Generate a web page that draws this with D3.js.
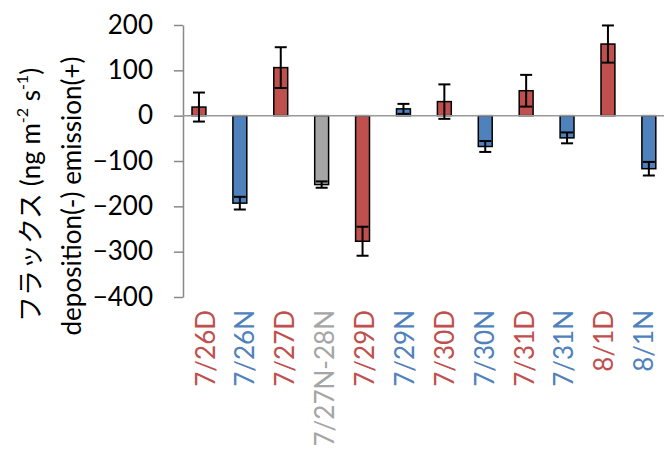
<!DOCTYPE html>
<html><head><meta charset="utf-8">
<script src="https://cdn.jsdelivr.net/npm/d3@7"></script>
<style>body{margin:0;background:#fff}svg{display:block}text{font-family:Lato,"Noto Sans CJK JP",sans-serif}</style>
</head><body><svg id="c" width="664" height="451"></svg>
<script>
const categories = ["7/26D","7/26N","7/27D","7/27N-28N","7/29D","7/29N","7/30D","7/30N","7/31D","7/31N","8/1D","8/1N"];
const periodType = ["D","N","D","NN","D","N","D","N","D","N","D","N"];
const fluxValues = [19,-193,106,-152,-277,15,31,-68,55,-49,158,-117];
const fluxErrors = [32,14,45,7,32,11,38,12,35,12,41,15];
const yTicks = [-400,-300,-200,-100,0,100,200];

const svg = d3.select("#c");
const color = d3.scaleOrdinal().domain(["D","N","NN"]).range(["#C0504D","#4F81BD","#A5A5A5"]);
const x = d3.scaleBand().domain(categories).range([178.5, 669.3]).paddingInner(0.66).paddingOuter(0.33);
const y = d3.scaleLinear().domain([-400, 200]).range([297, 25]);
const data = categories.map((c,i)=>({c, t:periodType[i], v:fluxValues[i], e:fluxErrors[i]}));

// y axis
const ax = svg.append("g").attr("transform","translate(183,0)")
  .call(d3.axisLeft(y).tickValues(yTicks).tickSize(9).tickPadding(21).tickSizeOuter(0).tickFormat(d3.format("d")));
ax.select(".domain").attr("stroke","#888").attr("stroke-width",1.5);
ax.selectAll(".tick line").attr("stroke","#888").attr("stroke-width",1.5);
ax.selectAll(".tick text").attr("font-size",26).attr("fill","#000").attr("font-family",'Lato,sans-serif');

// bars
svg.append("g").selectAll("rect").data(data).join("rect")
  .attr("x", d=>x(d.c)).attr("width", x.bandwidth())
  .attr("y", d=>y(Math.max(0,d.v))).attr("height", d=>Math.abs(y(d.v)-y(0)))
  .attr("fill", d=>color(d.t)).attr("stroke","#000").attr("stroke-width",1.5);

// zero line
svg.append("line").attr("x1",183).attr("x2",664).attr("y1",y(0)).attr("y2",y(0))
  .attr("stroke","#999").attr("stroke-width",1.5);

// error bars
const eb = svg.append("g").attr("stroke","#000").attr("stroke-width",2);
const cap = 6;
data.forEach(d=>{
  const cx = x(d.c)+x.bandwidth()/2;
  eb.append("line").attr("x1",cx).attr("x2",cx).attr("y1",y(d.v-d.e)).attr("y2",y(d.v+d.e));
  eb.append("line").attr("x1",cx-cap).attr("x2",cx+cap).attr("y1",y(d.v+d.e)).attr("y2",y(d.v+d.e));
  eb.append("line").attr("x1",cx-cap).attr("x2",cx+cap).attr("y1",y(d.v-d.e)).attr("y2",y(d.v-d.e));
});

// x labels (slightly compressed toward the middle, as in the original)
const mid = (x.range()[0]+x.range()[1])/2;
svg.append("g").selectAll("text").data(data).join("text")
  .attr("transform", d=>{ const cx = x(d.c)+x.bandwidth()/2; return `translate(${cx-(cx-mid)*0.025},310) rotate(-90)`; })
  .attr("text-anchor","end").attr("dominant-baseline","central")
  .attr("font-size",26).attr("fill",d=>color(d.t)).text(d=>d.c);

// y title
const t1 = svg.append("text").attr("transform","translate(30,195) rotate(-90)")
  .attr("text-anchor","middle").attr("dominant-baseline","central").attr("font-size",26).attr("fill","#000");
t1.append("tspan").text("フラックス (ng m");
t1.append("tspan").attr("font-size",16).attr("dy",-9).text("-2");
t1.append("tspan").attr("dy",9).text(" s");
t1.append("tspan").attr("font-size",16).attr("dy",-9).text("-1");
t1.append("tspan").attr("dy",9).text(")");
svg.append("text").attr("transform","translate(71,196) rotate(-90)")
  .attr("text-anchor","middle").attr("dominant-baseline","central").attr("font-size",26).attr("fill","#000")
  .text("deposition(-) emission(+)");
</script></body></html>
